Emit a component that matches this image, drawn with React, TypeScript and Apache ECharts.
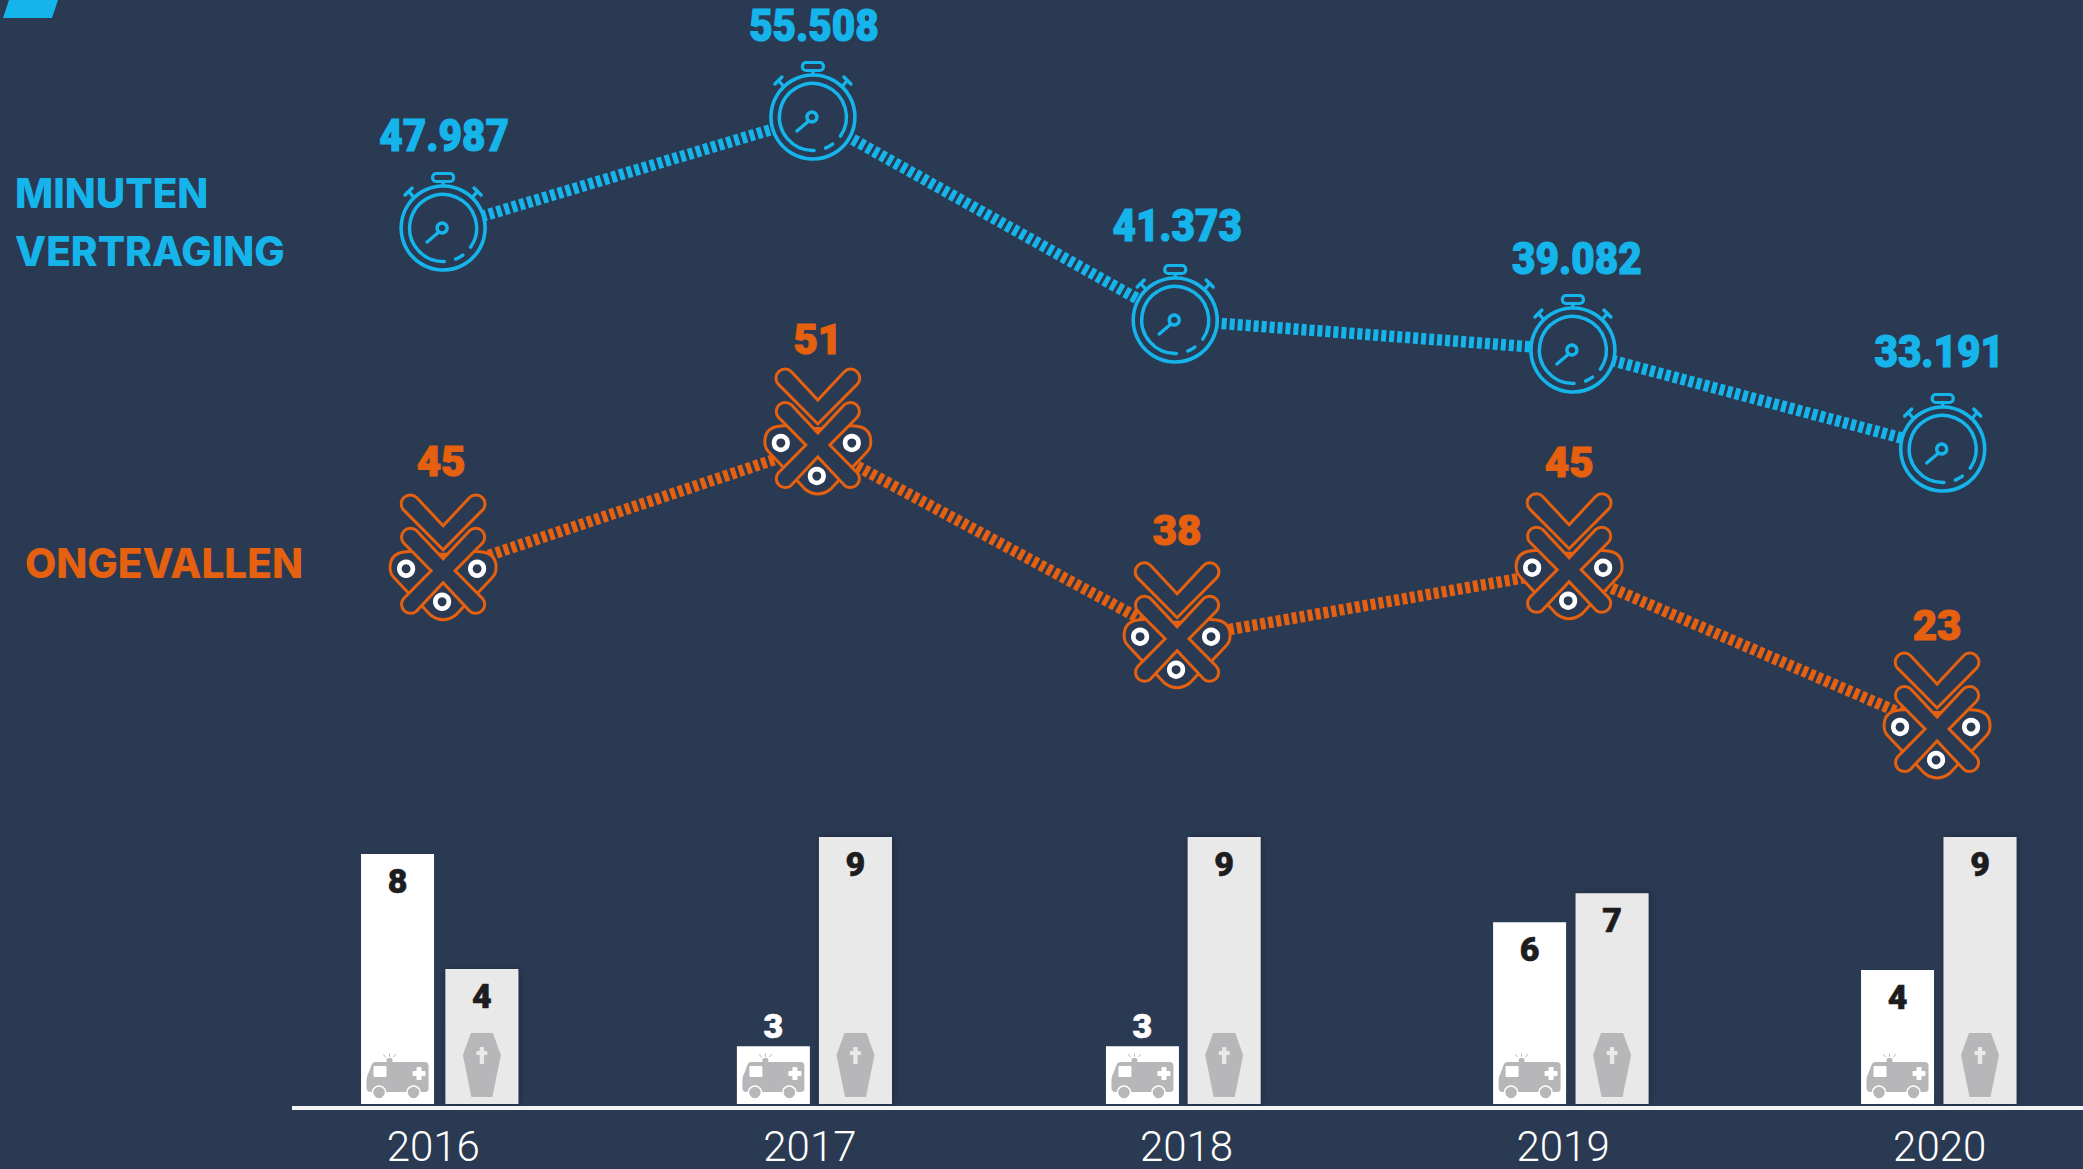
import React, { useEffect, useRef } from "react";
import * as echarts from "echarts";

const WIDTH = 2083;
const HEIGHT = 1169;
const BG = "#2a3a53";
const BLUE = "#15b5ec";
const ORANGE = "#e5600f";
const ICON_GREY = "#b7b7b9";

const years = ["2016", "2017", "2018", "2019", "2020"];

// printed values
const delayMinutes = [47987, 55508, 41373, 39082, 33191];
const accidents = [45, 51, 38, 45, 23];
const ambulanceInjured = [8, 3, 3, 6, 4];
const deaths = [4, 9, 9, 7, 9];

// the infographic is not drawn to scale: where each mark really sits
const delayDrawnLevel = [47833, 55377, 41579, 39540, 32811];
const delayDrawnYear = [2016.026, 2017.008, 2017.97, 2019.026, 2020.008];
const accidentDrawnLevel = [38.6, 51, 31.9, 38.7, 23];
const accidentDrawnYear = [2016.026, 2017.021, 2017.975, 2019.016, 2019.993];
const ambulanceDrawnLevel = [8.43, 1.95, 1.95, 6.13, 4.52];
const ambulanceDrawnYear = [2015.905, 2016.903, 2017.883, 2018.911, 2019.888];
const deathsDrawnLevel = [4.55, 9, 9, 7.11, 9];
const deathsDrawnYear = [2016.129, 2017.121, 2018.1, 2019.13, 2020.107];

const delayLabelDx = [1, 1, 2, 4, -3.5];
const delayLabelDy = [-93, -92, -95, -92, -98];
const accidentLabelDx = [-2, 0, 0, 0, 0];
const accidentLabelDy = [-109, -105, -108, -107, -103];

const fmtThousands = (v: number) => {
  const t = Math.floor(v / 1000);
  return `${t}.${String(v - t * 1000).padStart(3, "0")}`;
};

const stroke = (color: string, w = 3) => ({ stroke: color, fill: BG, lineWidth: w });
const line = (x1: number, y1: number, x2: number, y2: number, color: string, w = 3.4) => ({
  type: "line",
  shape: { x1, y1, x2, y2 },
  style: { stroke: color, lineWidth: w, lineCap: "round" },
});

function stopwatchChildren() {
  const c = BLUE;
  return [
    { type: "rect", shape: { x: -10.5, y: -54.5, width: 21, height: 8, r: 3.5 }, style: stroke(c, 3.2) },
    line(0, -46, 0, -42, c),
    line(-38, -33, -31, -40, c),
    line(-34, -36, -27, -28, c),
    line(38, -33, 31, -40, c),
    line(34, -36, 27, -28, c),
    { type: "circle", shape: { cx: 0, cy: 0, r: 42 }, style: stroke(c, 3.6) },
    {
      type: "arc",
      shape: { cx: 0, cy: 0, r: 33.5, startAngle: (88 * Math.PI) / 180, endAngle: (395 * Math.PI) / 180, clockwise: true },
      style: { stroke: c, fill: "none", lineWidth: 3.4, lineCap: "round" },
    },
    {
      type: "arc",
      shape: { cx: 0, cy: 0, r: 33.5, startAngle: (54 * Math.PI) / 180, endAngle: (68 * Math.PI) / 180, clockwise: true },
      style: { stroke: c, fill: "none", lineWidth: 3.4, lineCap: "round" },
    },
    line(-3, 3, -16, 14, c),
    { type: "circle", shape: { cx: -1, cy: 0, r: 5 }, style: stroke(c, 3.4) },
  ];
}

const CHEVRON = "M -26.45 -73.17 L 0 -45 L 26.45 -73.17 A 9 9 0 0 1 39.55 -60.83 L 0 -21 L -39.55 -60.83 A 9 9 0 0 1 -26.45 -73.17 Z";
const CROSS =
  "M 0 -12 L -26.6 -40.3 A 9 9 0 0 0 -39.4 -27.7 L -12 0 L -39.4 27.7 A 9 9 0 0 0 -26.6 40.3 L 0 12 L 26.6 40.3 A 9 9 0 0 0 39.4 27.7 L 12 0 L 39.4 -27.7 A 9 9 0 0 0 26.6 -40.3 Z";
const LOBE_L = "M -22 -20 L -37 -19 Q -53 -18 -53 -3 Q -53 3 -49 7 L -32 25 L -10 0 Z";
const LOBE_R = "M 22 -20 L 37 -19 Q 53 -18 53 -3 Q 53 3 49 7 L 32 25 L 10 0 Z";
const LOBE_B = "M 0 5 L -25 31 L -13 44 Q 0 54 13 44 L 25 31 Z";
const NOTCH = "M -9 -18 L 9 -18 L 0 -10 Z";

const pathEl = (d: string, style: any) => ({ type: "path", shape: { pathData: d }, style });

function accidentChildren() {
  const c = ORANGE;
  const ring = (cx: number, cy: number) => ({
    type: "circle",
    shape: { cx, cy, r: 6.8 },
    style: { stroke: "#ffffff", fill: BG, lineWidth: 4.6 },
  });
  return [
    pathEl(LOBE_L, stroke(c)),
    pathEl(LOBE_R, stroke(c)),
    pathEl(LOBE_B, stroke(c)),
    pathEl(CHEVRON, stroke(c)),
    pathEl(NOTCH, { fill: c }),
    pathEl(CROSS, stroke(c)),
    ring(-37, -2),
    ring(34, -2),
    ring(-1, 31),
  ];
}

function ambulanceChildren() {
  const g = ICON_GREY;
  return [
    { type: "rect", shape: { x: -11, y: -46, width: 6, height: 5, r: 2 }, style: { fill: g } },
    line(-8, -47.5, -8, -50, g, 1),
    line(-12, -47, -14, -49.5, g, 1),
    line(-4, -47, -2, -49.5, g, 1),
    pathEl(
      "M -22 -42 L 27 -42 Q 31 -42 31 -38 L 31 -15 Q 31 -12 27 -12 L -27 -12 Q -31 -12 -31 -16 L -31 -24 Q -31 -28 -29 -31 L -26 -39 Q -25 -42 -22 -42 Z",
      { fill: g }
    ),
    { type: "rect", shape: { x: -24, y: -38, width: 13, height: 11, r: 1 }, style: { fill: "#fff" } },
    { type: "rect", shape: { x: 15, y: -33, width: 13, height: 5, r: 1 }, style: { fill: "#fff" } },
    { type: "rect", shape: { x: 19, y: -37, width: 5, height: 13, r: 1 }, style: { fill: "#fff" } },
    { type: "circle", shape: { cx: -18.5, cy: -11.5, r: 6.5 }, style: { fill: g, stroke: "#fff", lineWidth: 1.5 } },
    { type: "circle", shape: { cx: 16, cy: -11.5, r: 6.5 }, style: { fill: g, stroke: "#fff", lineWidth: 1.5 } },
  ];
}

function coffinChildren() {
  const g = ICON_GREY;
  return [
    pathEl("M -11 -71 L 11 -71 L 19 -49 L 10.5 -7 L -10.5 -7 L -19 -49 Z", { fill: g }),
    { type: "rect", shape: { x: -2.2, y: -57, width: 4.4, height: 17, r: 1 }, style: { fill: "#e9e9e9" } },
    { type: "rect", shape: { x: -5.5, y: -53, width: 11, height: 4, r: 1 }, style: { fill: "#e9e9e9" } },
  ];
}

const iconSeries = (
  data: any[],
  children: () => any[],
  xAxisIndex: number,
  yAxisIndex: number,
  label?: { dx: number[]; dy: number[]; fontSize: number; color: string; scaleX: number }
) => ({
  type: "custom",
  xAxisIndex,
  yAxisIndex,
  z: 5,
  silent: true,
  clip: false,
  data,
  encode: { x: 0, y: 1 },
  renderItem: (params: any, api: any) => {
    const p = api.coord([api.value(0), api.value(1)]);
    const kids = children();
    if (label) {
      const i = params.dataIndex;
      kids.push({
        type: "text",
        x: label.dx[i],
        y: label.dy[i],
        scaleX: label.scaleX,
        style: {
          text: data[i][2],
          align: "center",
          verticalAlign: "middle",
          fontFamily: "Roboto",
          fontWeight: 900,
          fontSize: label.fontSize,
          fill: label.color,
          stroke: label.color,
          lineWidth: 1.2,
        },
      });
    }
    return { type: "group", x: p[0], y: p[1], children: kids };
  },
});

const trendLine = (data: any[], color: string, yAxisIndex: number) => ({
  type: "line",
  xAxisIndex: 2,
  yAxisIndex,
  z: 2,
  silent: true,
  showSymbol: false,
  symbol: "none",
  data,
  lineStyle: { color, width: 11.5, type: [5, 3], cap: "butt" },
});

const barSeries = (
  years_: number[],
  levels: number[],
  values: number[],
  color: string,
  shadow: boolean
) => ({
  type: "bar",
  xAxisIndex: 1,
  yAxisIndex: 0,
  z: 3,
  silent: true,
  barWidth: 73,
  barGap: "-100%",
  itemStyle: shadow
    ? { color, shadowColor: "rgba(0,0,0,0.3)", shadowBlur: 7, shadowOffsetX: 1 }
    : { color },
  data: years_.map((x, i) => {
    const small = levels[i] < 3;
    return {
      value: [x, levels[i], values[i]],
      label: small
        ? { position: "top", distance: 3.5, color: "#ffffff", textBorderColor: "#ffffff", textBorderWidth: 0.6 }
        : { position: "insideTop", distance: 10, color: "#1d1d1f", textBorderColor: "#1d1d1f", textBorderWidth: 0.6 },
    };
  }),
  label: {
    show: true,
    fontFamily: "Roboto",
    fontWeight: 900,
    fontSize: 34,
    formatter: (p: any) => String(p.value[2]),
  },
});

export default function App() {
  const ref = useRef<HTMLDivElement>(null);

  useEffect(() => {
    document.body.style.margin = "0";
    document.body.style.overflow = "hidden";
    const chart = echarts.init(ref.current!, null, { renderer: "svg" });
    // x scale: 2016 sits at 433.3 px and one year is 376.6 px wide
    const hiddenX = (gridIndex: number) => ({
      type: "value",
      gridIndex,
      min: 2014.8494,
      max: 2020.3805,
      show: false,
    });
    const hiddenY = (gridIndex: number, min: number, max: number) => ({
      type: "value",
      gridIndex,
      min,
      max,
      show: false,
      splitLine: { show: false },
    });
    const zip = (xs: number[], ls: number[], labels: any[]) => xs.map((x, i) => [x, ls[i], labels[i]]);
    const delayData = zip(delayDrawnYear, delayDrawnLevel, delayMinutes.map(fmtThousands));
    const accidentData = zip(accidentDrawnYear, accidentDrawnLevel, accidents.map(String));
    const titleText = (text: string, x: number, y: number, fill: string) => ({
      type: "text",
      x,
      y,
      z: 10,
      style: {
        text,
        fill,
        fontFamily: "Inter",
        fontWeight: 800,
        fontSize: 40.5,
        align: "left",
        verticalAlign: "middle",
      },
    });

    chart.setOption({
      animation: false,
      backgroundColor: BG,
      grid: [
        { left: 0, width: WIDTH, top: 800, height: 304 },
        { left: 0, width: WIDTH, top: 0, height: HEIGHT },
        { left: 433.3, width: 1506.4, top: 800, height: 304 },
      ],
      xAxis: [
        {
          type: "category",
          gridIndex: 2,
          boundaryGap: false,
          data: years,
          axisLine: { show: false },
          axisTick: { show: false },
          axisLabel: {
            show: true,
            interval: 0,
            margin: 21,
            color: "#ffffff",
            fontFamily: "Roboto",
            fontWeight: 300,
            fontSize: 42,
          },
        },
        hiddenX(0),
        hiddenX(1),
      ],
      yAxis: [
        hiddenY(0, 0, 10.25),
        hiddenY(1, -16129, 63330),
        hiddenY(1, -20.38, 94.87),
        hiddenY(2, 0, 10),
      ],
      graphic: [
        { type: "polygon", z: 10, shape: { points: [[9, 0], [58, 0], [52, 18], [3, 18]] }, style: { fill: BLUE } },
        titleText("MINUTEN", 15, 193, BLUE),
        titleText("VERTRAGING", 15, 251, BLUE),
        titleText("ONGEVALLEN", 25, 563, ORANGE),
        { type: "line", z: 10, shape: { x1: 292, y1: 1108, x2: 2083, y2: 1108 }, style: { stroke: "#f4f4f4", lineWidth: 4 } },
      ],
      series: [
        trendLine(delayData, BLUE, 1),
        trendLine(accidentData, ORANGE, 2),
        barSeries(ambulanceDrawnYear, ambulanceDrawnLevel, ambulanceInjured, "#ffffff", false),
        barSeries(deathsDrawnYear, deathsDrawnLevel, deaths, "#e9e9e9", true),
        iconSeries(delayData, stopwatchChildren, 2, 1, { dx: delayLabelDx, dy: delayLabelDy, fontSize: 45, color: BLUE, scaleX: 0.9 }),
        iconSeries(accidentData, accidentChildren, 2, 2, { dx: accidentLabelDx, dy: accidentLabelDy, fontSize: 42, color: ORANGE, scaleX: 1 }),
        iconSeries(ambulanceDrawnYear.map((x) => [x, 0]), ambulanceChildren, 1, 0),
        iconSeries(deathsDrawnYear.map((x) => [x, 0]), coffinChildren, 1, 0),
      ],
    });
    return () => chart.dispose();
  }, []);

  return <div ref={ref} style={{ width: WIDTH, height: HEIGHT, background: BG }} />;
}
